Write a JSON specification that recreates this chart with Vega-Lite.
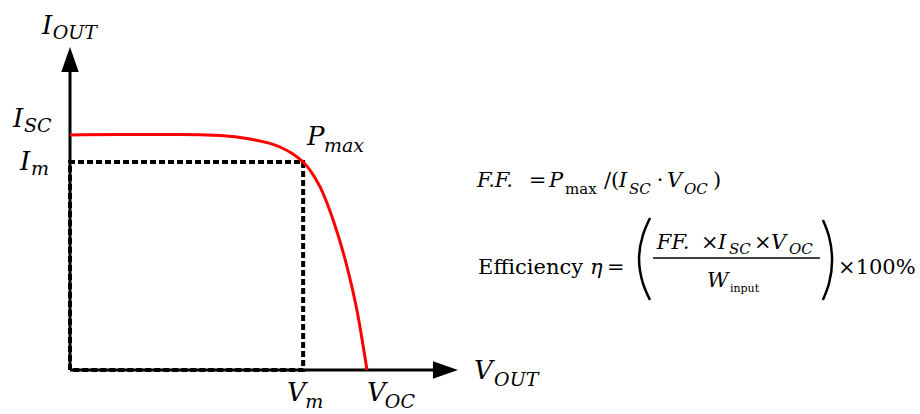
{
  "$schema": "https://vega.github.io/schema/vega-lite/v6.json",
  "width": 920,
  "height": 414,
  "autosize": "none",
  "padding": 0,
  "background": "white",
  "config": {"view": {"stroke": null}, "text": {"font": "DejaVu Serif", "color": "#000000", "align": "left", "baseline": "alphabetic"}},
  "datasets": {
    "curve": [
      {"v": 0.0, "i": 1.0},
      {"v": 0.168, "i": 1.002},
      {"v": 0.37, "i": 1.002},
      {"v": 0.505, "i": 0.998},
      {"v": 0.606, "i": 0.983},
      {"v": 0.707, "i": 0.949},
      {"v": 0.751, "i": 0.919},
      {"v": 0.785, "i": 0.885},
      {"v": 0.808, "i": 0.851},
      {"v": 0.842, "i": 0.779},
      {"v": 0.886, "i": 0.638},
      {"v": 0.933, "i": 0.438},
      {"v": 0.966, "i": 0.255},
      {"v": 1.0, "i": 0.0}
    ],
    "mppBox": [
      {"k": 0, "v": 0.0, "i": 0.0},
      {"k": 1, "v": 0.0, "i": 0.885},
      {"k": 2, "v": 0.785, "i": 0.885},
      {"k": 3, "v": 0.785, "i": 0.0},
      {"k": 4, "v": 0.0, "i": 0.0}
    ],
    "axes": [
      {"axis": "V", "v": 0.0, "i": 0.0, "v2": 1.235, "i2": 0.0},
      {"axis": "I", "v": 0.0, "i": 0.0, "v2": 0.0, "i2": 1.275}
    ],
    "arrowheads": [
      {"axis": "V", "v": 1.222, "i": 0.0},
      {"axis": "I", "v": 0.0, "i": 1.268}
    ],
    "parens": [
      {"side": "left", "k": 0, "v": 1.953, "i": 0.647},
      {"side": "left", "k": 1, "v": 1.929, "i": 0.574},
      {"side": "left", "k": 2, "v": 1.916, "i": 0.472},
      {"side": "left", "k": 3, "v": 1.929, "i": 0.37},
      {"side": "left", "k": 4, "v": 1.953, "i": 0.298},
      {"side": "right", "k": 0, "v": 2.535, "i": 0.638},
      {"side": "right", "k": 1, "v": 2.556, "i": 0.566},
      {"side": "right", "k": 2, "v": 2.566, "i": 0.468},
      {"side": "right", "k": 3, "v": 2.556, "i": 0.37},
      {"side": "right", "k": 4, "v": 2.535, "i": 0.298}
    ],
    "fractionBar": [
      {"v": 1.963, "i": 0.477, "v2": 2.525}
    ],
    "symbols": [
      {"text": "I", "v": -0.094, "i": 1.43},
      {"text": "I", "v": -0.192, "i": 1.034},
      {"text": "I", "v": -0.168, "i": 0.851},
      {"text": "P", "v": 0.798, "i": 0.957},
      {"text": "V", "v": 1.36, "i": -0.038},
      {"text": "V", "v": 0.731, "i": -0.132},
      {"text": "V", "v": 1.0, "i": -0.132}
    ],
    "subscripts": [
      {"text": "OUT", "v": -0.058, "i": 1.409},
      {"text": "SC", "v": -0.155, "i": 1.013},
      {"text": "m", "v": -0.131, "i": 0.83},
      {"text": "max", "v": 0.855, "i": 0.928},
      {"text": "OUT", "v": 1.428, "i": -0.068},
      {"text": "m", "v": 0.792, "i": -0.162},
      {"text": "OC", "v": 1.06, "i": -0.162}
    ],
    "eqItalic": [
      {"text": "F.F.", "v": 1.37, "i": 0.779},
      {"text": "P", "v": 1.613, "i": 0.779},
      {"text": "I", "v": 1.848, "i": 0.779},
      {"text": "V", "v": 2.01, "i": 0.779},
      {"text": "η", "v": 1.751, "i": 0.409},
      {"text": "FF.", "v": 1.976, "i": 0.515},
      {"text": "I", "v": 2.182, "i": 0.515},
      {"text": "V", "v": 2.36, "i": 0.515},
      {"text": "W", "v": 2.145, "i": 0.353}
    ],
    "eqItalicSub": [
      {"text": "SC", "v": 1.882, "i": 0.749},
      {"text": "OC", "v": 2.067, "i": 0.749},
      {"text": "SC", "v": 2.219, "i": 0.494},
      {"text": "OC", "v": 2.421, "i": 0.494}
    ],
    "eqRoman": [
      {"text": "=", "v": 1.545, "i": 0.779},
      {"text": "/(", "v": 1.798, "i": 0.779},
      {"text": "·", "v": 1.976, "i": 0.779},
      {"text": ")", "v": 2.165, "i": 0.779},
      {"text": "Efficiency", "v": 1.374, "i": 0.409},
      {"text": "=", "v": 1.808, "i": 0.409},
      {"text": "×", "v": 2.125, "i": 0.515},
      {"text": "×", "v": 2.303, "i": 0.515},
      {"text": "×100%", "v": 2.586, "i": 0.409}
    ],
    "eqRomanSub": [
      {"text": "max", "v": 1.667, "i": 0.749}
    ],
    "eqRomanTiny": [
      {"text": "input", "v": 2.222, "i": 0.332}
    ]
  },
  "encoding": {
    "x": {"field": "v", "type": "quantitative", "scale": {"domain": [-0.2357, 2.862], "nice": false, "zero": false}, "axis": null},
    "y": {"field": "i", "type": "quantitative", "scale": {"domain": [-0.1872, 1.5745], "nice": false, "zero": false}, "axis": null}
  },
  "layer": [
    {
      "data": {"name": "axes"},
      "mark": {"type": "rule", "color": "#000000", "strokeWidth": 3},
      "encoding": {
        "x2": {"field": "v2"},
        "y2": {"field": "i2"}
      }
    },
    {
      "data": {"name": "mppBox"},
      "mark": {"type": "line", "color": "#000000", "strokeWidth": 4, "strokeDash": [6, 3], "strokeCap": "butt"},
      "encoding": {"order": {"field": "k", "type": "quantitative"}}
    },
    {
      "data": {"name": "curve"},
      "mark": {"type": "line", "color": "#ff0000", "strokeWidth": 3, "interpolate": "monotone"},
      "encoding": {}
    },
    {
      "data": {"name": "arrowheads"},
      "transform": [{"filter": "datum.axis === 'I'"}],
      "mark": {"type": "point", "shape": "M0,-1L-0.35,0L0.35,0Z", "size": 2500, "filled": true, "color": "#000000", "opacity": 1, "strokeWidth": 0}
    },
    {
      "data": {"name": "arrowheads"},
      "transform": [{"filter": "datum.axis === 'V'"}],
      "mark": {"type": "point", "shape": "M1,0L0,-0.35L0,0.35Z", "size": 2500, "filled": true, "color": "#000000", "opacity": 1, "strokeWidth": 0}
    },
    {
      "data": {"name": "parens"},
      "mark": {"type": "line", "color": "#000000", "strokeWidth": 2.5, "interpolate": "natural"},
      "encoding": {
        "detail": {"field": "side", "type": "nominal"},
        "order": {"field": "k", "type": "quantitative"}
      }
    },
    {
      "data": {"name": "fractionBar"},
      "mark": {"type": "rule", "color": "#000000", "strokeWidth": 1.5},
      "encoding": {"x2": {"field": "v2"}}
    },
    {
      "data": {"name": "symbols"},
      "mark": {"type": "text", "fontStyle": "italic", "fontSize": 26},
      "encoding": {"text": {"field": "text"}}
    },
    {
      "data": {"name": "subscripts"},
      "mark": {"type": "text", "fontStyle": "italic", "fontSize": 19},
      "encoding": {"text": {"field": "text"}}
    },
    {
      "data": {"name": "eqItalic"},
      "mark": {"type": "text", "fontStyle": "italic", "fontSize": 21},
      "encoding": {"text": {"field": "text"}}
    },
    {
      "data": {"name": "eqItalicSub"},
      "mark": {"type": "text", "fontStyle": "italic", "fontSize": 15},
      "encoding": {"text": {"field": "text"}}
    },
    {
      "data": {"name": "eqRoman"},
      "mark": {"type": "text", "fontSize": 21},
      "encoding": {"text": {"field": "text"}}
    },
    {
      "data": {"name": "eqRomanSub"},
      "mark": {"type": "text", "fontSize": 15},
      "encoding": {"text": {"field": "text"}}
    },
    {
      "data": {"name": "eqRomanTiny"},
      "mark": {"type": "text", "fontSize": 11},
      "encoding": {"text": {"field": "text"}}
    }
  ]
}
